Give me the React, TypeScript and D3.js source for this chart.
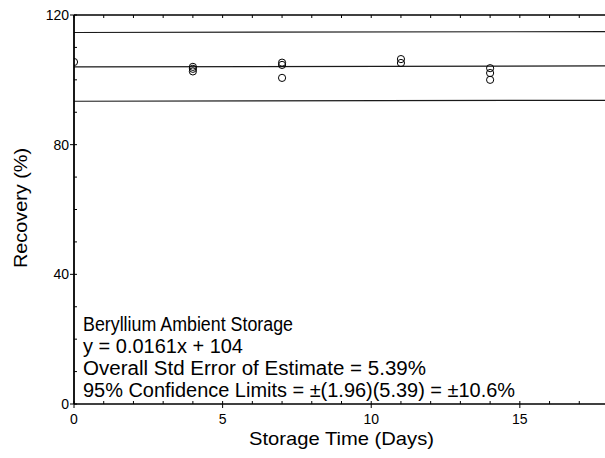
import React from "react";
import * as d3 from "d3";

const days = [0, 4, 4, 4, 7, 7, 7, 11, 11, 14, 14, 14];
const recovery = [105.5, 104.0, 103.4, 102.6, 105.3, 104.6, 100.6, 106.4, 105.2, 103.6, 102.1, 100.0];
const slope = 0.0161;
const intercept = 104;
const limit = 10.6;
const xTicks = [0, 5, 10, 15];
const yTicks = [0, 40, 80, 120];
const legendLines = [
  "Beryllium Ambient Storage",
  "y = 0.0161x + 104",
  "Overall Std Error of Estimate = 5.39%",
  "95% Confidence Limits = \u00B1(1.96)(5.39) = \u00B110.6%",
];
const legendLengths = [210, 160, 343, 432];

const W = 605, H = 458;
const L = 74, T = 15, B = 404, R = 609;
const FONT = "'Liberation Sans', Arial, Helvetica, sans-serif";

export default function App() {
  const x = d3.scaleLinear().domain([0, 18]).range([L, R]);
  const y = d3.scaleLinear().domain([0, 120]).range([B, T]);
  const minorX = d3.range(0, 19, 1);
  const minorY = d3.range(0, 121, 10);
  const fit = (xv: number, off: number) => slope * xv + intercept + off;
  const line = d3.line<number>().x((d) => x(d[0] as any)).y((d: any) => y(d[1]));
  const offsets = [limit, 0, -limit];
  return (
    <svg width={W} height={H} style={{ position: "absolute", left: 0, top: 0, background: "#fff" }} fontFamily={FONT}>
      <defs>
        <clipPath id="plot">
          <rect x={L} y={T} width={R - L} height={B - T} />
        </clipPath>
      </defs>
      <rect x={0} y={0} width={W} height={H} fill="#fff" />
      <g clipPath="url(#plot)">
        {offsets.map((o, i) => {
          const pts: any = [[0, fit(0, o)], [18, fit(18, o)]];
          const p = d3.line<any>().x((d) => x(d[0])).y((d) => y(d[1]))(pts) || "";
          return <path key={i} d={p} stroke="#1a1a1a" strokeWidth={1.2} fill="none" />;
        })}
        {days.map((dd, i) => (
          <circle key={i} cx={x(dd)} cy={y(recovery[i])} r={3.6} fill="none" stroke="#000" strokeWidth={1} />
        ))}
      </g>
      {/* axes frame */}
      <line x1={L} x2={R} y1={T} y2={T} stroke="#000" strokeWidth={1.6} />
      <line x1={L} x2={R} y1={B} y2={B} stroke="#000" strokeWidth={1.6} />
      <line x1={L} x2={L} y1={T} y2={B} stroke="#000" strokeWidth={1.8} />
      {minorX.map((v) => (
        <g key={"mx" + v}>
          <line x1={x(v)} x2={x(v)} y1={T} y2={T + 3} stroke="#000" strokeWidth={1} />
          <line x1={x(v)} x2={x(v)} y1={B} y2={B - 3} stroke="#000" strokeWidth={1} />
        </g>
      ))}
      {minorY.map((v) => (
        <line key={"my" + v} x1={L} x2={L + 3} y1={y(v)} y2={y(v)} stroke="#000" strokeWidth={1} />
      ))}
      {xTicks.map((v) => (
        <g key={"xt" + v}>
          <line x1={x(v)} x2={x(v)} y1={B} y2={B + 4} stroke="#000" strokeWidth={1} />
          <text x={x(v)} y={424} textAnchor="middle" fontSize={14} fill="#000">{v}</text>
        </g>
      ))}
      {yTicks.map((v) => (
        <g key={"yt" + v}>
          <line x1={L - 4} x2={L} y1={y(v)} y2={y(v)} stroke="#000" strokeWidth={1} />
          <text x={69} y={y(v)} dy="0.35em" textAnchor="end" fontSize={14} fill="#000">{v}</text>
        </g>
      ))}
      {legendLines.map((t, i) => (
        <text key={i} x={83} y={331 + i * 22} fontSize={20} fill="#000" textLength={legendLengths[i]} lengthAdjust="spacingAndGlyphs">{t}</text>
      ))}
      <text x={341.5} y={445} textAnchor="middle" fontSize={19} fill="#000" textLength={185} lengthAdjust="spacingAndGlyphs">Storage Time (Days)</text>
      <text transform={`translate(27,208) rotate(-90)`} textAnchor="middle" fontSize={19} fill="#000" textLength={120} lengthAdjust="spacingAndGlyphs">Recovery (%)</text>
    </svg>
  );
}
